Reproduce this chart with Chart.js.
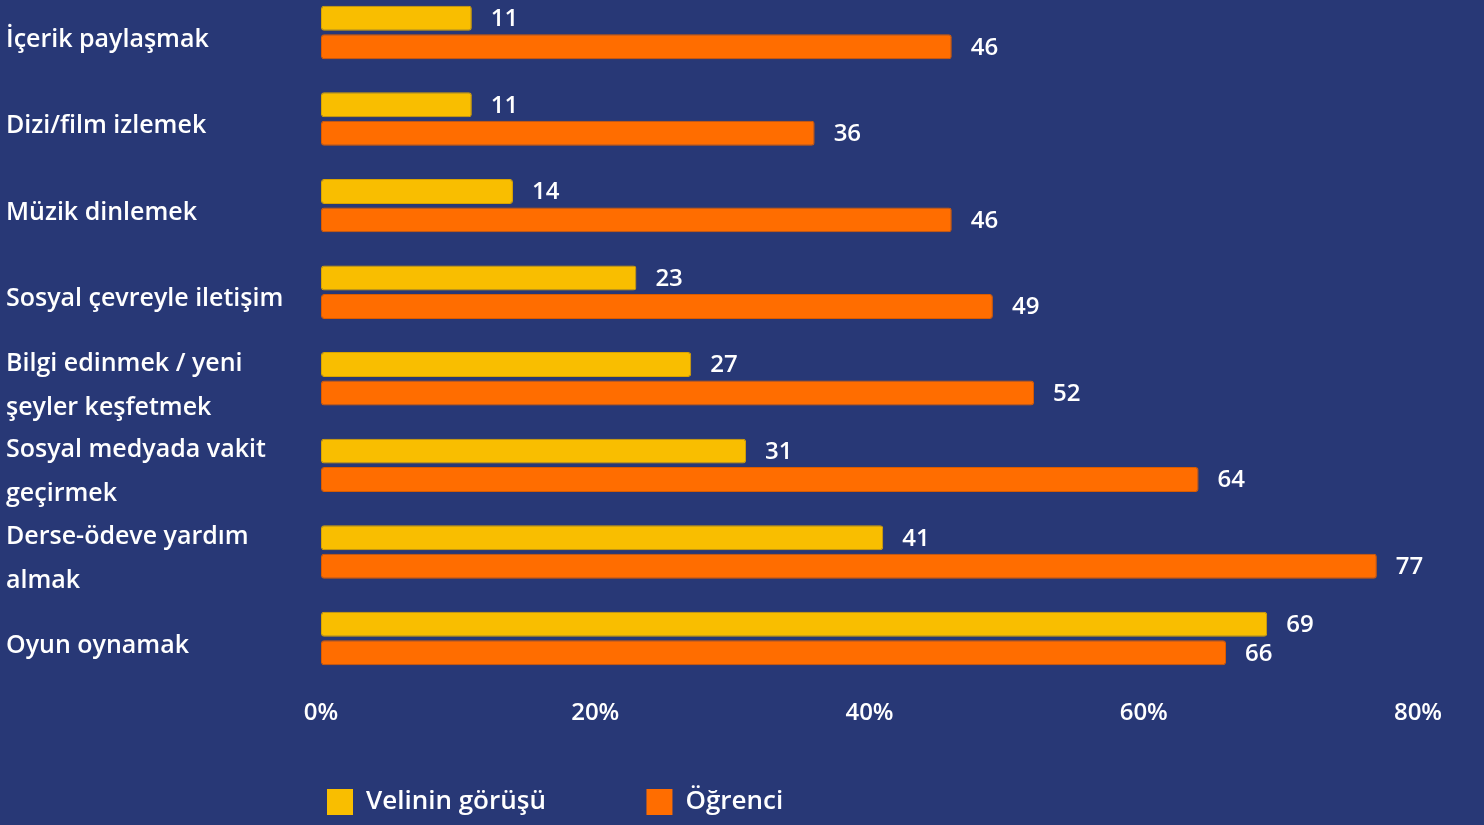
<!DOCTYPE html>
<html>
<head>
<meta charset="utf-8">
<script src="https://cdn.jsdelivr.net/npm/chart.js@4"></script>
<style>
  html, body { margin: 0; padding: 0; background: #283876; }
  canvas { display: block; }
</style>
</head>
<body>
<canvas id="grafik" width="1484" height="825"></canvas>
<script>
const kategoriler = [
  'İçerik paylaşmak',
  'Dizi/film izlemek',
  'Müzik dinlemek',
  'Sosyal çevreyle iletişim',
  ['Bilgi edinmek / yeni', 'şeyler keşfetmek'],
  ['Sosyal medyada vakit', 'geçirmek'],
  ['Derse-ödeve yardım', 'almak'],
  'Oyun oynamak'
];
const veli = [11, 11, 14, 23, 27, 31, 41, 69];
const ogrenci = [46, 36, 46, 49, 52, 64, 77, 66];
const eksenTikleri = [0, 20, 40, 60, 80];

Chart.defaults.font.family = '"Open Sans", sans-serif';
Chart.defaults.font.weight = '600';
Chart.defaults.color = '#ffffff';

// bar sonundaki sayilar
const degerEtiketi = {
  id: 'degerEtiketi',
  afterDatasetsDraw(chart) {
    const ctx = chart.ctx;
    ctx.save();
    ctx.font = '600 24px "Open Sans", sans-serif';
    ctx.fillStyle = '#ffffff';
    ctx.textBaseline = 'middle';
    ctx.textAlign = 'left';
    chart.data.datasets.forEach((ds, i) => {
      chart.getDatasetMeta(i).data.forEach((bar, j) => {
        ctx.fillText(ds.data[j], bar.x + 19, bar.y + 1);
      });
    });
    ctx.restore();
  }
};

// kategori yazilarini biraz asagi kaydir
const etiketKaydir = {
  id: 'etiketKaydir',
  beforeDraw(chart) {
    const y = chart.scales.y;
    y.getLabelItems(chart.chartArea).forEach(item => {
      if (!item._kaydi) {
        item.options.translation[1] += 7;
        item._kaydi = true;
      }
    });
  }
};

new Chart(document.getElementById('grafik'), {
  type: 'bar',
  data: {
    labels: kategoriler,
    datasets: [
      {
        label: 'Velinin görüşü',
        data: veli,
        backgroundColor: '#f9be00',
        borderColor: '#d9a300',
        borderWidth: 1,
        borderRadius: 3,
        borderSkipped: false,
        categoryPercentage: 0.658,
        barPercentage: 0.877,
        clip: false
      },
      {
        label: 'Öğrenci',
        data: ogrenci,
        backgroundColor: '#ff6d00',
        borderColor: '#d95c00',
        borderWidth: 1,
        borderRadius: 3,
        borderSkipped: false,
        categoryPercentage: 0.658,
        barPercentage: 0.877,
        clip: false
      }
    ]
  },
  options: {
    indexAxis: 'y',
    responsive: false,
    animation: false,
    layout: { padding: { top: 32.5, left: 6, right: 66, bottom: 0 } },
    scales: {
      y: {
        offset: false,
        grid: { display: false, drawTicks: false },
        border: { display: false },
        ticks: {
          autoSkip: false,
          crossAlign: 'far',
          padding: 0,
          color: '#ffffff',
          font: { size: 25, weight: '600', lineHeight: 1.76 }
        },
        afterFit(scale) {
          scale.width = 315;
          scale.paddingTop = 0;
          scale.paddingBottom = 0;
        }
      },
      x: {
        min: 0,
        max: 80,
        grid: { display: false, drawTicks: false },
        border: { display: false },
        afterBuildTicks(scale) {
          scale.ticks = eksenTikleri.map(v => ({ value: v }));
        },
        ticks: {
          autoSkip: false,
          maxRotation: 0,
          padding: 60,
          color: '#ffffff',
          font: { size: 24, weight: '600' },
          callback: v => v + '%'
        },
        afterFit(scale) {
          scale.height = 144.5;
          scale.paddingLeft = 0;
          scale.paddingRight = 0;
        }
      }
    },
    plugins: {
      legend: {
        position: 'bottom',
        align: 'start',
        fullSize: false,
        labels: {
          color: '#ffffff',
          boxWidth: 26,
          boxHeight: 26,
          padding: 6,
          font: { size: 26, weight: '600' },
          generateLabels(chart) {
            const items = Chart.defaults.plugins.legend.labels.generateLabels(chart);
            items.forEach(it => { it.lineWidth = 0; });
            // ilk ogeden sonra bosluk birak
            items[0].text = items[0].text + '\u00a0'.repeat(14);
            return items;
          }
        }
      },
      tooltip: { enabled: false }
    }
  },
  plugins: [degerEtiketi, etiketKaydir]
});
</script>
</body>
</html>
